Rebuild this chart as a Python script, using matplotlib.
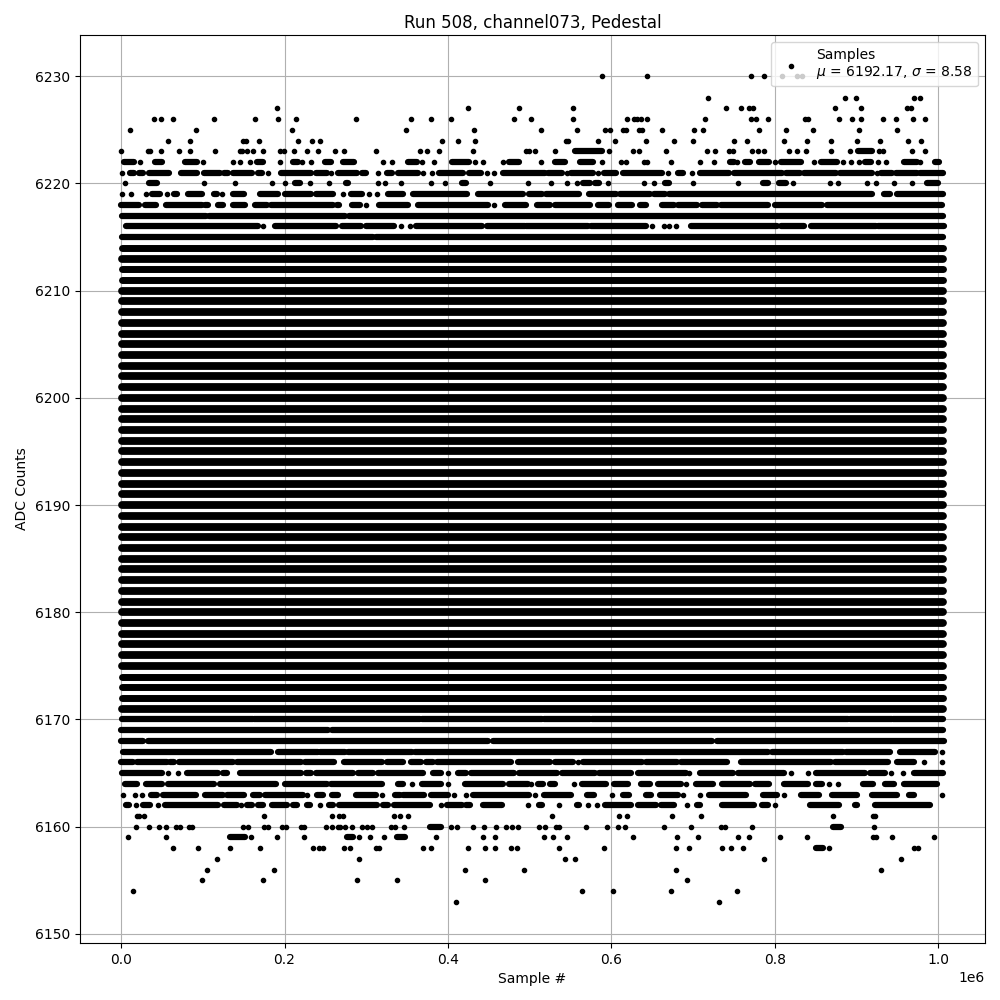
#!/usr/bin/env python3
"""Pedestal samples per ADC level; numbers are single samples, tuples are unbroken runs (in k-samples)."""
import matplotlib
matplotlib.use("Agg")
import matplotlib.pyplot as plt

TITLE = "Run 508, channel073, Pedestal"
LABEL = "Samples\n$\\mu$ = 6192.17, $\\sigma$ = 8.58"

# sparse top of the distribution
row_6230 = [589, 644, 771, 787, 809, 827.5, 833.6]
row_6228 = [718.7, 886, 899.7, 971, 977.6]
row_6227 = [190.6, 424, 486.6, 553.5, 740.7, 759, 768.8, 772.9, 874, 905.8, 962, 967]
row_6226 = [40.6, 49.1, 63.4, 113.6, 163.7, 191.8, 213.9, 287.3, 354.6, 379, 403.5, 480.7, 502, 553.5,
            619.6, 628, 631.8, 636.7, 644, 715, 771, 777.4, 792, 837, 841, 879, 894.8, 905.8, 932.7,
            949, 969.4, 984]
row_6225 = [10.8, 91.5, 209, 348.4, 431.6, 514, 558, 592.7, 598.8, 614.7, 618.3, 634.3, 638, 662.4, 701.5,
            712.5, 781, 814, 847, 903.4, 950]
row_6224 = [57.3, 84.2, 149, 152.7, 168.6, 216.3, 233.4, 243.2, 392.5, 412, 432.7, 545, 547.4, 584, 605,
            642.8, 677, 700.3, 750.5, 766.4, 811.6, 839, 869, 901, 929, 963.3, 979.6]
row_6223 = [0, 32.8, 35.3, 48.7, 70.7, 84.2, 114.8, 145, 148.3, 154.3, 161.3, 173.5, 194.3, 199.2, 211.4,
            227.3, 240.8, 261.6, 272.6, 311.7, 365.5, 374, 388.8, 430.4, 495.6, 499, 507, 531.5, (556, 588),
            597.5, 627, 634, 667, 717, 727, 744.3, 749.2, 772.5, 779.8, 787, 817.7, 827.5, 838.5, 869,
            892.4, (902, 919), 928, 932.7, 968, 984]
row_6222 = [(3.5, 15.7), 23, (41.4, 50), (78, 92.8), 100, 136.8, 145.4, 157.6, (166, 173.5), 194, (210, 216),
            221, 232, (249, 256.7), (271.4, 285), 320, 331, (351, 362), 368, 383, (404.7, 425.5), 433, 442.6,
            467, (475, 486.6), 514, (531.5, 543.7), (562, 577), 589, 612, 618, 640, 644, 673, 709, 726,
            (745.5, 750), 754, (763, 770), (781, 793), 800.6, (808, 832), 848, (857, 876.4), 884, 893.5, 903,
            (911, 918), 926, 936.4, (958.4, 974), 978, (996.7, 1001.6)]
row_6221 = [1, (10.8, 15.7), (21.8, 26.7), (34, 58.5), (73, 92.8), (101.3, 121), (125.8, 130.7), (136.8, 160),
            (167.4, 172), 179.6, (195.5, 232), (238.3, 251.8), 256.7, (265, 288.5), (294.5, 299.5), 314,
            (325, 331), (338.6, 363), 369, 380, (388.7, 418), (425.5, 440), 447.5, 456, (468, 519),
            (523, 540), 546, (551, 577), 584, (591.4, 606), (614.7, 662.4), 669, (681.5, 688), 699, (709, 744),
            (750.5, 809), (814, 831), (836, 875), (880, 919), 925, (930, 943.7), (948.6, 974), (978, 1006)]
row_6220 = [4.7, (34, 44), 101.3, 139, 184.5, 200.4, (212.6, 218.4), 231, 254, (275, 278), 314, 323, 342.3,
            379, 396, (417, 422), 451, 497.6, 526.6, 546, 558.4, (565.7, 573.5), (580.4, 585.3), 596, 640,
            652.6, (666, 671), 700, 755, (786, 792), (805.5, 814), 822.6, 868, 877.6, 913, 924, 946, 968,
            (986.5, 1000)]
row_6219 = [1, 12, 30.4, (37.7, 47.5), 56, (64.6, 68.3), (81.7, 99), (113.6, 117), 123.3, (136.8, 150),
            (170, 192), (200.4, 232), (238.3, 259), 271.4, (281, 294.5), 303, 313, (326.4, 345), (357, 423),
            (436.5, 491.5), (499, 515.6), (519.7, 560), (573, 606), (611, 647.7), (652.6, 666), (671, 919),
            (934, 941), (950, 1006)]
row_6218 = [(0, 22), (29, 43), (55, 99), (103, 106), (118.5, 124.6), (136.8, 151.5), (163.7, 178.4),
            (183.3, 259), (264, 266.5), (282.4, 292), 299.5, (315.4, 351), (363, 449), 456, (469.6, 495.6),
            (509.5, 524.6), (531.5, 574), (584, 597.5), (608.6, 625.7), (635.5, 642.8), (662.4, 677),
            (682, 705), (711, 729.6), (734.5, 792), (800.6, 858), (864, 1005)]
row_6217 = [(1, 104), (108, 273.4), (279, 1006)]
row_6216 = [(5.5, 167), 174, (188, 263.6), (270, 294), (300, 334), 343, 353, (361, 442), (448, 494), (496, 571),
            (575, 642), 650, 664, 671, 679, (698, 803), (808, 836), (844.6, 924), (926.6, 1007)]
row_6215 = [(1, 308), (312, 1006)]

# solid middle of the distribution
solid_levels = [6171, 6172, 6173, 6174, 6175, 6176, 6177, 6178, 6179, 6180, 6181, 6182, 6183, 6184,
                6185, 6186, 6187, 6188, 6189, 6190, 6191, 6192, 6193, 6194, 6195, 6196, 6197, 6198, 6199,
                6200, 6201, 6202, 6203, 6204, 6205, 6206, 6207, 6208, 6209, 6210, 6211, 6212, 6213, 6214]
solid_first = 0.5
solid_last = 1006

# bottom of the distribution
row_6170 = [(0.5, 161), (163, 366), (368, 515), (517, 574), (576, 890), (892, 943), (945, 1006)]
row_6169 = [(0, 253), (258, 1006)]
row_6168 = [(0, 27), (33, 449), (455, 723.5), (729.6, 1007)]
row_6167 = [(2, 183.6), (191.8, 240.8), (243, 273.8), (277.5, 356), (359.4, 792), (797, 884), (887.4, 941),
            (953.5, 996.7), 1005]
row_6166 = [(0, 14.5), (19.4, 56), (59.7, 64.6), (70.7, 136.8), (141.7, 220), (224.8, 260), (272.6, 319),
            (325, 345), (354.6, 366.7), (372.8, 381.4), (386.3, 477), (485.5, 525.4), (531.5, 553.5), 559.6,
            (565.7, 638), (642.8, 680.7), (685.6, 742), (759, 869), (874, 938.8), (950, 970.6), 982.8, 1005]
row_6165 = [(1, 50), 57.3, 69.6, (80.5, 118.5), (124.6, 129.5), (145.4, 220), (226.5, 232), (238.3, 283.6),
            (290, 308), (314, 369), (381.4, 391), 400, (412, 422), (428.3, 480.6), (487.5, 534), (540, 580.4),
            (585.3, 624.5), (633, 691.7), 695.4, (708.9, 749), (755, 811.6), 820, 841, (850.7, 910.7),
            (916.8, 935), 942.5, 957, (970.6, 1006)]
row_6164 = [(4.7, 19.4), (30.4, 50), (57.3, 113.6), (121, 190), (200.4, 251.8), (256.7, 319), (339, 345), 356,
            (368, 391), 400, (420.5, 467), (474.6, 497.6), 502, (510.7, 516.8), (525.4, 531.5), 554.7,
            (564.5, 594), (603.7, 621), (636.7, 647.7), (657.5, 685.6), 691.7, (704, 724.8), (735.8, 770),
            (776, 793), (811.6, 841), (850.7, 858), 866.6, 877.6, (908.2, 920.4), (935, 946), (958.4, 998.7)]
row_6163 = [2, 17, 25.5, (36.5, 44), (51, 92), (102.5, 124.6), (129.5, 150), (161.3, 170), (176, 222.5), 227.3,
            (239.5, 247), (258, 265), (287.3, 311.7), 319, (335, 341), (345, 370.6), (379, 400), 408, 422,
            (430.4, 499.6), 506, (518, 551), (570.6, 579), 601, (614.7, 622), (642.8, 649), (660, 682), 688, 709,
            (720, 765), (786, 803), 811.6, (832.4, 854), (870, 901), (919, 950), (964.5, 970.6), 1005]
row_6162 = [(6, 9.6), 18, (27, 35), 45, (53.7, 118.5), (125.8, 141.7), 146.7, (154, 160), (167.4, 173.5),
            (184.5, 203), (210.3, 215), (227.3, 231), 243.2, (254, 259), (266.5, 313), (320.3, 326.4), (334, 378),
            391, (398.5, 417), (422, 427), (442.6, 466), 497.6, (512, 515.6), 536.4, (558.4, 561), 571, 583,
            (592.7, 624.5), (633, 655), (661, 677), 693, (705, 709), (735.8, 775), (784.7, 792), 800.6,
            (843.4, 879), (898.5, 901), (923, 990.6)]
row_6161 = [19.4, 22, 28, 174.7, 258, 266.5, 271.4, 334, 341, 351, 527.8, 609.8, 619.6, 674.6, 710, 871.5,
            920.4, 923]
row_6160 = [18, 34, 46, 54.8, 67, 72, 83, 87, 149, 155, 174.7, 179.6, 197, 201.6, 220, 223.6, 250.6, 258, 265,
            268, 274, 282.4, 295, 300.7, 307, 330, 335, 346, (378, 391), 403.5, 411, 430.4, 444, 458.6, 470.7,
            478, 485.5, 512, 519, 532.7, 536.4, 569.4, 595, 608.6, 617, 664.8, 697.8, 734.5, 739.4, 772,
            (871.5, 881), 921.5]
row_6159 = [8.4, 54.8, (133, 151.5), 159, 190.6, 223.6, (276, 283.6), 291, 304, 321.5, (337.4, 347), 385, 442.6,
            457, 518, 529, 546, 627, 680.7, 706.4, 755, 768.8, 806.7, 839.7, 920.4, 924, 943.7, 995]
row_6158 = [63.4, 94, 133, 170, 234.7, 242, 247, 272.6, 280, 311.7, 315.4, 369, 379, 424, 445, 457, 477, 484,
            536.4, 591.4, 679.5, 695.4, 735.8, 746.8, 761.4, (850.7, 859), 866.6, 970.6, 975.5]
row_6157 = [117.2, 291, 543.7, 556, 787, 954.7]
row_6156 = [105, 187, 421, 492.8, 679.5, 930]
row_6155 = [99, 173.5, 288.5, 337.4, 445, 693]
row_6154 = [14.5, 564.5, 602.4, 673.4, 754]
row_6153 = [409.6, 732]

rows = {6230: row_6230, 6228: row_6228, 6227: row_6227, 6226: row_6226, 6225: row_6225, 6224: row_6224,
        6223: row_6223, 6222: row_6222, 6221: row_6221, 6220: row_6220, 6219: row_6219, 6218: row_6218,
        6217: row_6217, 6216: row_6216, 6215: row_6215, 6170: row_6170, 6169: row_6169, 6168: row_6168,
        6167: row_6167, 6166: row_6166, 6165: row_6165, 6164: row_6164, 6163: row_6163, 6162: row_6162,
        6161: row_6161, 6160: row_6160, 6159: row_6159, 6158: row_6158, 6157: row_6157, 6156: row_6156,
        6155: row_6155, 6154: row_6154, 6153: row_6153}
# the thinner solid levels, where the overplotted samples do not quite saturate
thin_levels = [6172, 6173, 6174, 6211, 6212, 6214]

dots_x, dots_y, run_y, run_start, run_end = [], [], [], [], []
for level, items in rows.items():
    for item in items:
        if isinstance(item, tuple):
            run_y.append(level)
            run_start.append(item[0] * 1e3)
            run_end.append(item[1] * 1e3)
        else:
            dots_y.append(level)
            dots_x.append(item * 1e3)

thick = [v for v in solid_levels if v not in thin_levels]

fig, ax = plt.subplots(figsize=(10, 10))
fig.subplots_adjust(left=0.08, right=0.985, top=0.965, bottom=0.057)
ax.scatter(dots_x, dots_y, s=36, marker=".", color="black", label=LABEL)
# runs are overlapping samples, so a round-capped stroke as wide as one dot stands in for them
ax.hlines(run_y, run_start, run_end, colors="black", linewidth=4.5, capstyle="round")
ax.hlines(thin_levels, solid_first * 1e3, solid_last * 1e3, colors="black", linewidth=5.0, capstyle="round")
ax.hlines(thick, solid_first * 1e3, solid_last * 1e3, colors="black", linewidth=5.6, capstyle="round")
ax.set_title(TITLE, pad=5.3)
ax.set_xlabel("Sample #")
ax.set_ylabel("ADC Counts")
ax.grid(True)
ax.set_axisbelow(True)
ax.legend(loc="upper right")
fig.savefig("out.png", dpi=100)
